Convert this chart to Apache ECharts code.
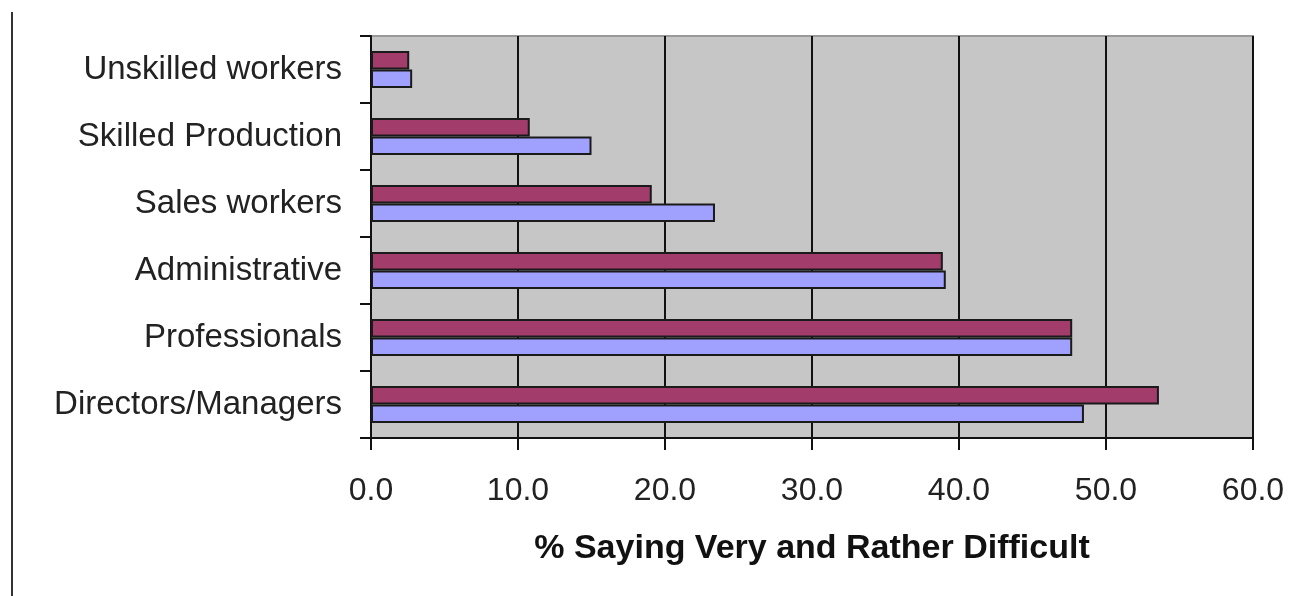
<!DOCTYPE html>
<html>
<head>
<meta charset="utf-8">
<script src="https://cdn.jsdelivr.net/npm/echarts@6/dist/echarts.min.js"></script>
<style>
  html, body { margin: 0; padding: 0; background: #ffffff; }
  #chart { width: 1290px; height: 596px; }
</style>
</head>
<body>
<div id="chart"></div>
<script>
// Occupation groups, listed bottom to top on the category axis
const categories = [
  'Directors/Managers',
  'Professionals',
  'Administrative',
  'Sales workers',
  'Skilled Production',
  'Unskilled workers'
];

// Percentage saying "very" or "rather" difficult, two survey series
const seriesUpper = [53.6, 47.7, 38.9, 19.1, 10.8, 2.6];
const seriesLower = [48.5, 47.7, 39.1, 23.4, 15.0, 2.8];

// Value axis ticks
const xTicks = [0, 10, 20, 30, 40, 50, 60];

const axisTitle = '% Saying Very and Rather Difficult';
const FONT = '"Liberation Sans", Arial, sans-serif';

const chart = echarts.init(document.getElementById('chart'), null, { renderer: 'canvas' });

chart.setOption({
  animation: false,
  backgroundColor: '#ffffff',
  grid: {
    left: 371,
    right: 37,
    top: 36,
    bottom: 158,
    show: true,
    backgroundColor: '#c6c6c6',
    borderColor: '#9a9a9a',
    borderWidth: 2
  },
  xAxis: {
    type: 'value',
    min: xTicks[0],
    max: xTicks[xTicks.length - 1],
    interval: xTicks[1] - xTicks[0],
    name: axisTitle,
    nameLocation: 'middle',
    nameGap: 94,
    nameTextStyle: {
      fontFamily: FONT,
      fontSize: 34,
      fontWeight: 'bold',
      color: '#111111'
    },
    axisLine: { show: true, lineStyle: { color: '#111111', width: 2 } },
    axisTick: { show: true, length: 12, lineStyle: { color: '#111111', width: 2 } },
    axisLabel: {
      margin: 37,
      fontFamily: FONT,
      fontSize: 32,
      color: '#222222',
      formatter: v => v.toFixed(1)
    },
    splitLine: { show: true, lineStyle: { color: '#111111', width: 2 } }
  },
  yAxis: {
    type: 'category',
    data: categories,
    axisLine: { show: true, lineStyle: { color: '#111111', width: 2 } },
    axisTick: { show: true, length: 11, lineStyle: { color: '#111111', width: 2 } },
    axisLabel: {
      margin: 29,
      fontFamily: FONT,
      fontSize: 33,
      color: '#222222'
    },
    splitLine: { show: false }
  },
  series: [
    {
      type: 'bar',
      data: seriesUpper,
      barGap: '0%',
      barCategoryGap: '45%',
      itemStyle: { color: '#a23c6b', borderColor: '#1a1a1a', borderWidth: 2 }
    },
    {
      type: 'bar',
      data: seriesLower,
      barGap: '0%',
      barCategoryGap: '45%',
      itemStyle: { color: '#a0a0ff', borderColor: '#1a1a1a', borderWidth: 2 }
    }
  ],
  graphic: [
    {
      type: 'line',
      shape: { x1: 12, y1: 12, x2: 12, y2: 596 },
      style: { stroke: '#333333', lineWidth: 2 }
    }
  ]
});
</script>
</body>
</html>
